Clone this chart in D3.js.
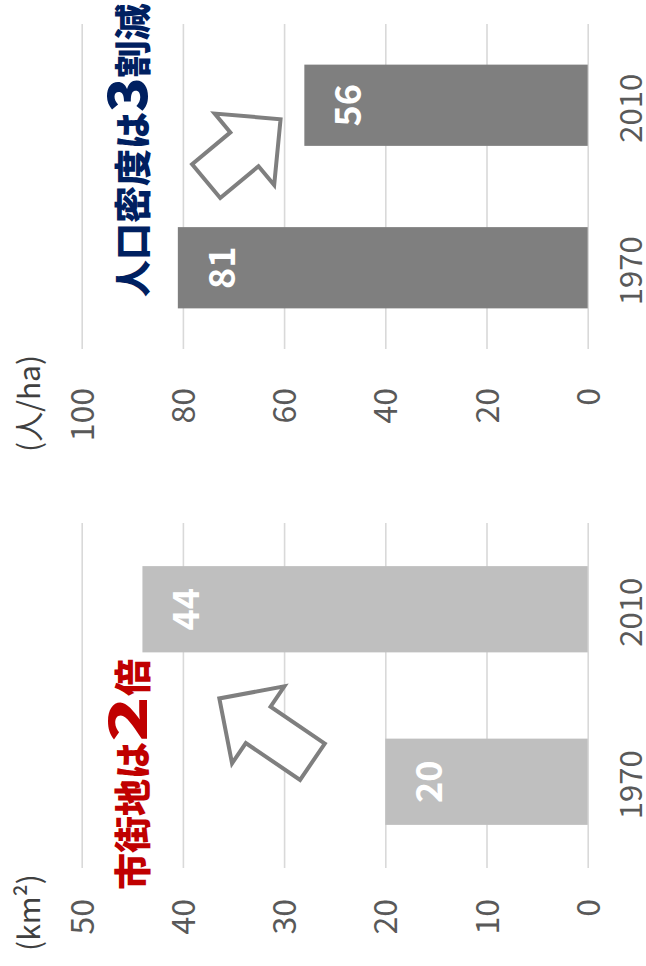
<!DOCTYPE html>
<html>
<head>
<meta charset="utf-8">
<script src="https://cdn.jsdelivr.net/npm/d3@7"></script>
<style>
  html, body { margin: 0; padding: 0; background: #fff; }
  svg { display: block; font-family: "Noto Sans CJK JP", "Noto Sans", sans-serif; }
</style>
</head>
<body>
<svg id="chart" width="646" height="966"></svg>
<script>
// ---- data ----
const categories = ["1970", "2010"];
const areaValues = [20, 44];        // 市街地面積 (km²)
const densityValues = [81, 56];     // 人口密度 (人/ha)
const areaTicks = [0, 10, 20, 30, 40, 50];
const densityTicks = [0, 20, 40, 60, 80, 100];
const areaUnit = "(km²)";
const densityUnit = "(人/ha)";
const areaNote = ["市街地は", "2", "倍"];
const densityNote = ["人口密度は", "3", "割減"];
// arrow ends: [position along the category axis (0 = first bar centre, 1 = second), value]
const areaArrow = [[0.116, 27.2], [0.483, 36.4]];
const densityArrow = [[0.533, 75.4], [0.914, 60.7]];

// ---- layout (drawn in an upright 966 x 646 frame, then turned a quarter left) ----
const FW = 966, FH = 646;
const baseY = 587.7, topY = 81.7;

const panels = [
  { values: areaValues, ticks: areaTicks, unit: areaUnit, note: areaNote, arrow: areaArrow,
    band: [98, 443], tickPad: 31, unitX: 15, noteX: 76, fill: "#BFBFBF", noteColor: "#C00000",
    digitSize: 52, digitScale: 1.45 },
  { values: densityValues, ticks: densityTicks, unit: densityUnit, note: densityNote, arrow: densityArrow,
    band: [617, 942], tickPad: 39, unitX: 514, noteX: 669, fill: "#7F7F7F", noteColor: "#002060",
    digitSize: 54, digitScale: 1.05 }
];

const svg = d3.select("#chart");
const frame = svg.append("g").attr("transform", `translate(0,${FW}) rotate(-90)`);

function arrowPoints(p0, p1, shaft, headW, headL) {
  const dx = p1[0] - p0[0], dy = p1[1] - p0[1];
  const len = Math.hypot(dx, dy);
  const ux = dx / len, uy = dy / len;
  const nx = -uy, ny = ux;
  const bx = p1[0] - ux * headL, by = p1[1] - uy * headL;
  const pt = (x, y, k) => [x + nx * k, y + ny * k];
  return [
    pt(p0[0], p0[1], shaft / 2),
    pt(bx, by, shaft / 2),
    pt(bx, by, headW / 2),
    [p1[0], p1[1]],
    pt(bx, by, -headW / 2),
    pt(bx, by, -shaft / 2),
    pt(p0[0], p0[1], -shaft / 2)
  ];
}

panels.forEach(p => {
  const g = frame.append("g");
  const x = d3.scaleBand().domain(categories).range(p.band).paddingInner(0.5).paddingOuter(0.25);
  const y = d3.scaleLinear().domain([0, p.ticks[p.ticks.length - 1]]).range([baseY, topY]);
  const width = p.band[1] - p.band[0];

  // value axis with gridlines
  const yAxis = g.append("g")
    .attr("transform", `translate(${p.band[0]},0)`)
    .call(d3.axisLeft(y).tickValues(p.ticks).tickSize(-width).tickPadding(p.tickPad).tickFormat(d3.format("d")));
  yAxis.select(".domain").remove();
  yAxis.selectAll(".tick line").attr("stroke", "#D9D9D9").attr("stroke-width", 1.6);
  yAxis.selectAll(".tick text")
    .attr("fill", "#595959").attr("dy", "0.36em")
    .style("font-size", "32px").style("font-family", "'Noto Sans CJK JP', 'Noto Sans', sans-serif");

  // category axis labels
  const xAxis = g.append("g")
    .attr("transform", `translate(0,${baseY})`)
    .call(d3.axisBottom(x).tickSize(0));
  xAxis.select(".domain").remove();
  xAxis.selectAll(".tick text")
    .attr("y", 54.3).attr("dy", 0).attr("dx", -3)
    .attr("fill", "#595959")
    .style("font-size", "31px").style("font-family", "'Noto Sans CJK JP', 'Noto Sans', sans-serif");

  // bars
  const rows = categories.map((c, i) => ({ cat: c, value: p.values[i] }));
  g.selectAll("rect.bar").data(rows).join("rect")
    .attr("class", "bar")
    .attr("x", d => x(d.cat))
    .attr("width", x.bandwidth())
    .attr("y", d => y(d.value))
    .attr("height", d => baseY - y(d.value))
    .attr("fill", p.fill);

  // value labels inside the bar ends
  g.selectAll("text.val").data(rows).join("text")
    .attr("class", "val")
    .attr("x", d => x(d.cat) + x.bandwidth() / 2)
    .attr("y", d => y(d.value) + 57)
    .attr("text-anchor", "middle")
    .attr("fill", "#FFFFFF")
    .style("font-size", "36px").style("font-weight", 700)
    .text(d => d.value);

  // unit label
  g.append("text")
    .attr("x", p.unitX).attr("y", 40)
    .attr("fill", "#404040")
    .style("font-size", "30px")
    .text(p.unit);

  // block arrow showing the direction of change
  const pos = t => x(categories[0]) + x.bandwidth() / 2 + t * x.step();
  const a0 = [pos(p.arrow[0][0]), y(p.arrow[0][1])];
  const a1 = [pos(p.arrow[1][0]), y(p.arrow[1][1])];
  g.append("polygon")
    .attr("points", arrowPoints(a0, a1, 44, 93, 47).map(q => q.join(",")).join(" "))
    .attr("fill", "#FFFFFF")
    .attr("stroke", "#7F7F7F")
    .attr("stroke-width", 4)
    .attr("stroke-linejoin", "miter");

  // headline note with an enlarged digit
  const noteY = 147;
  const note = g.append("g").attr("fill", p.noteColor).style("font-weight", 900);
  const t1 = note.append("text").attr("x", p.noteX).attr("y", noteY)
    .style("font-size", "37px").text(p.note[0]);
  let cx = p.noteX + t1.node().getComputedTextLength();
  const t2 = note.append("text")
    .attr("transform", `translate(${cx},${noteY}) scale(${p.digitScale},1)`)
    .style("font-size", p.digitSize + "px").text(p.note[1]);
  cx += t2.node().getComputedTextLength() * p.digitScale;
  note.append("text").attr("x", cx).attr("y", noteY)
    .style("font-size", "37px").text(p.note[2]);
});
</script>
</body>
</html>
